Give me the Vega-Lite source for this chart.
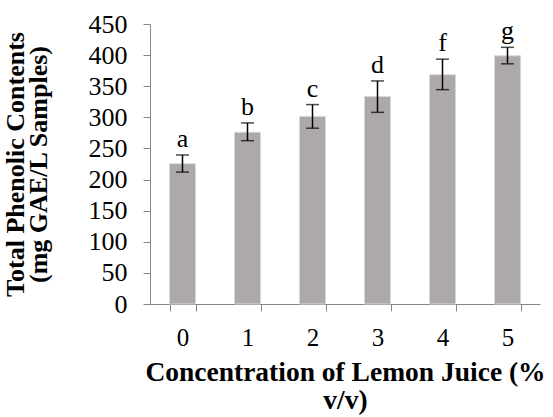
{
  "$schema": "https://vega.github.io/schema/vega-lite/v6.json",
  "width": 390,
  "height": 280,
  "autosize": {"type": "none"},
  "padding": {"left": 150, "top": 24, "right": 13, "bottom": 113},
  "background": "white",
  "data": {
    "values": [
      {"c": "0", "v": 225.5, "lo": 212, "hi": 239.5, "g": "a"},
      {"c": "1", "v": 276, "lo": 262.5, "hi": 291, "g": "b"},
      {"c": "2", "v": 301.5, "lo": 282.5, "hi": 320.5, "g": "c"},
      {"c": "3", "v": 333.5, "lo": 308, "hi": 358.5, "g": "d"},
      {"c": "4", "v": 368.5, "lo": 344.5, "hi": 393.5, "g": "f"},
      {"c": "5", "v": 399, "lo": 386, "hi": 412.5, "g": "g"}
    ]
  },
  "config": {
    "view": {"stroke": null},
    "font": "Liberation Serif",
    "axisY": {
      "labelOverlap": false,
      "labelFont": "Liberation Serif",
      "labelFontSize": 26,
      "labelColor": "black",
      "labelPadding": 16,
      "tickSize": 7,
      "tickColor": "#868686",
      "domainColor": "#868686",
      "grid": false,
      "titleFont": "Liberation Serif",
      "titleFontSize": 26,
      "titleFontWeight": "bold",
      "titleColor": "black",
      "titleLineHeight": 23,
      "titlePadding": 37
    }
  },
  "encoding": {
    "x": {
      "field": "c",
      "type": "ordinal",
      "sort": null,
      "scale": {"paddingInner": 0.6, "paddingOuter": 0.3},
      "axis": {
        "title": ["Concentration of Lemon Juice (%", "v/v)"],
        "titleFont": "Liberation Serif",
        "titleFontSize": 27.5,
        "titleFontWeight": "bold",
        "titleColor": "black",
        "titleLineHeight": 28,
        "titlePadding": 8,
        "labelAngle": 0,
        "labelFont": "Liberation Serif",
        "labelFontSize": 25,
        "labelColor": "black",
        "labelPadding": 14,
        "tickSize": 7,
        "tickColor": "#868686",
        "domainColor": "#868686",
        "tickBand": "extent",
        "grid": false
      }
    }
  },
  "layer": [
    {
      "mark": {"type": "bar", "color": "#ADA9A8", "stroke": "#DAD8D7", "strokeWidth": 1},
      "encoding": {
        "y": {
          "field": "v",
          "type": "quantitative",
          "scale": {"domain": [0, 450]},
          "axis": {
            "title": ["Total Phenolic Contents", "(mg GAE/L Samples)"],
            "values": [0, 50, 100, 150, 200, 250, 300, 350, 400, 450]
          }
        }
      }
    },
    {
      "mark": {"type": "rule", "color": "black", "strokeWidth": 1.5},
      "encoding": {
        "y": {"field": "lo", "type": "quantitative", "axis": {"title": ["Total Phenolic Contents", "(mg GAE/L Samples)"], "values": [0, 50, 100, 150, 200, 250, 300, 350, 400, 450]}},
        "y2": {"field": "hi"}
      }
    },
    {
      "mark": {"type": "tick", "color": "black", "size": 13, "thickness": 1.5},
      "encoding": {"y": {"field": "lo", "type": "quantitative", "axis": {"title": ["Total Phenolic Contents", "(mg GAE/L Samples)"], "values": [0, 50, 100, 150, 200, 250, 300, 350, 400, 450]}}}
    },
    {
      "mark": {"type": "tick", "color": "black", "size": 13, "thickness": 1.5},
      "encoding": {"y": {"field": "hi", "type": "quantitative", "axis": {"title": ["Total Phenolic Contents", "(mg GAE/L Samples)"], "values": [0, 50, 100, 150, 200, 250, 300, 350, 400, 450]}}}
    },
    {
      "mark": {"type": "text", "baseline": "alphabetic", "dy": -8, "fontSize": 26, "font": "Liberation Serif", "color": "black"},
      "encoding": {
        "y": {"field": "hi", "type": "quantitative", "axis": {"title": ["Total Phenolic Contents", "(mg GAE/L Samples)"], "values": [0, 50, 100, 150, 200, 250, 300, 350, 400, 450]}},
        "text": {"field": "g"}
      }
    }
  ]
}
